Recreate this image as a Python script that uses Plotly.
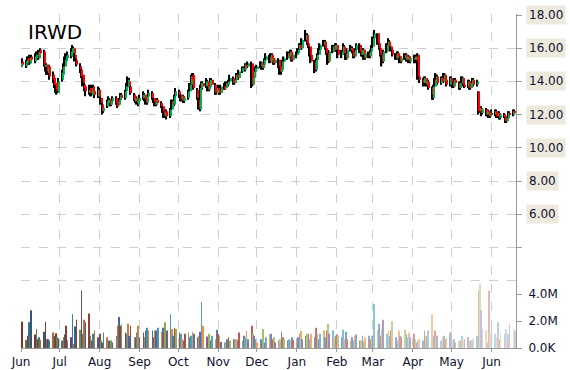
import numpy as np
import pandas as pd
import plotly.graph_objects as go

# ---- data (one line per month: Jun-2017 ... Jun-2018) ----
open_ = [
 14.9,15.2,14.9,15.1,15.4,15.1,15.5,15.2,15.4,15.7,15.4,15.9,15.8,14.9,15.0,14.5,14.9,14.4,14.2,13.9,13.6,13.3,
 14.1,14.4,14.9,15.2,15.4,15.5,15.7,16.0,15.6,15.3,14.9,14.7,14.4,13.8,13.7,13.3,13.6,13.2,13.7,13.4,13.1,
 13.5,13.0,12.6,12.2,12.5,12.7,12.9,12.6,12.8,13.0,12.8,12.6,12.9,13.2,13.0,13.4,13.7,14.0,13.7,13.2,12.8,13.0,12.6,
 12.8,13.0,13.2,12.9,12.7,13.1,13.3,13.0,12.8,12.6,12.9,12.7,12.5,12.2,11.9,12.2,11.9,12.3,12.8,12.6,13.1,
 13.4,13.2,12.9,13.1,12.8,13.0,13.4,13.8,14.3,14.4,13.5,12.9,12.3,13.6,13.9,13.7,14.0,13.5,13.7,14.1,13.8,13.3,
 13.6,13.5,13.3,13.7,13.6,13.9,13.8,14.0,14.2,13.9,14.1,14.4,14.2,14.6,14.8,14.7,15.0,14.9,15.1,13.8,14.2,14.6,
 14.8,14.9,15.1,14.8,15.0,15.3,15.5,15.2,15.6,15.4,15.1,15.3,14.9,14.6,14.7,15.2,15.4,15.7,15.5,15.8,15.3,
 15.6,15.7,15.9,16.2,16.0,16.5,16.8,16.3,16.1,15.6,15.2,14.7,15.3,15.6,15.9,16.2,16.4,16.0,15.7,15.2,15.8,16.1,15.9,
 16.2,15.9,15.6,15.8,16.1,15.7,15.4,15.9,16.0,15.8,15.5,15.9,16.2,15.8,15.6,15.9,15.4,15.7,15.5,15.8,
 16.1,16.6,16.9,16.3,16.0,15.6,15.2,15.8,16.2,16.4,16.1,15.9,15.6,15.4,15.7,15.5,15.2,15.4,15.6,15.3,15.5,15.2,
 15.4,15.3,15.5,15.6,14.3,14.1,13.9,14.2,13.8,14.0,13.6,13.0,13.7,14.1,14.3,13.9,14.2,14.0,14.4,14.1,13.8,
 14.2,14.0,13.7,14.1,13.9,13.6,13.9,14.2,13.8,13.7,14.0,13.6,13.9,14.1,13.8,13.4,12.2,12.4,12.1,12.3,12.0,12.2,11.9,
 12.1,12.0,12.2,11.9,12.1,11.8,12.0,11.9,11.6,11.8,12.1,12.0,12.2,
]
high = [
 15.3,15.4,15.3,15.5,15.5,15.6,15.6,15.7,15.8,15.8,15.9,16.0,15.9,15.2,15.1,15.0,15.0,14.6,14.4,14.0,13.8,14.2,
 14.7,15.1,15.5,15.7,15.8,16.0,16.2,16.1,15.8,15.4,15.1,14.9,14.5,14.0,13.8,13.8,13.7,13.8,13.8,13.5,13.7,
 13.6,13.1,12.7,12.6,12.9,13.1,13.0,12.9,13.1,13.1,12.9,13.0,13.3,13.3,13.5,13.9,14.3,14.2,13.8,13.3,13.2,13.1,13.0,
 13.2,13.4,13.3,13.0,13.2,13.5,13.4,13.1,12.9,13.0,13.0,12.8,12.6,12.3,12.3,12.3,12.4,12.9,12.9,13.2,13.6,
 13.5,13.3,13.2,13.2,13.1,13.5,13.9,14.4,14.5,14.5,13.6,13.0,13.8,14.0,14.0,14.2,14.1,13.8,14.2,14.2,13.9,13.7,
 13.8,13.6,13.8,13.9,14.0,14.0,14.1,14.4,14.3,14.2,14.5,14.5,14.7,14.9,14.9,15.1,15.1,15.2,15.2,14.4,14.7,14.9,
 15.0,15.2,15.2,15.1,15.4,15.7,15.6,15.7,15.7,15.5,15.4,15.4,15.0,14.9,15.3,15.5,15.8,15.8,15.9,15.9,15.7,
 15.8,16.0,16.3,16.3,16.6,17.1,16.9,16.4,16.2,15.7,15.3,15.4,15.7,16.0,16.3,16.5,16.5,16.1,15.8,15.9,16.2,16.2,16.3,
 16.3,16.0,15.9,16.3,16.2,15.8,16.0,16.2,16.1,15.9,16.0,16.3,16.3,15.9,16.0,16.0,15.8,15.8,15.9,16.2,
 16.7,17.1,16.9,16.4,16.1,15.7,15.9,16.3,16.6,16.5,16.2,16.0,15.7,15.8,15.8,15.6,15.5,15.7,15.7,15.6,15.6,15.5,
 15.6,15.6,15.6,15.7,14.4,14.2,14.3,14.3,14.1,14.1,13.7,13.8,14.2,14.5,14.4,14.3,14.3,14.5,14.5,14.2,14.3,
 14.3,14.1,14.2,14.2,14.0,14.0,14.3,14.3,13.9,14.1,14.1,14.0,14.2,14.2,14.1,13.4,12.6,12.5,12.4,12.4,12.3,12.3,12.2,
 12.3,12.3,12.3,12.2,12.2,12.1,12.1,12.0,11.9,12.2,12.2,12.3,12.3,
]
low = [
 14.8,14.9,14.8,15.0,15.0,15.0,15.1,15.1,15.3,15.3,15.3,15.5,14.9,14.6,14.4,14.4,14.1,13.9,13.6,13.3,13.2,13.3,
 14.0,14.3,14.7,15.0,15.3,15.4,15.6,15.5,15.2,14.9,14.5,14.2,13.7,13.4,13.1,13.2,13.1,13.1,13.2,13.0,13.0,
 13.0,12.6,12.0,12.1,12.4,12.6,12.5,12.5,12.7,12.6,12.4,12.5,12.8,12.9,12.9,13.3,13.6,13.7,13.2,12.8,12.7,12.6,12.5,
 12.7,12.9,12.8,12.6,12.6,13.0,12.9,12.7,12.5,12.5,12.6,12.4,12.1,11.8,11.8,11.7,11.8,12.2,12.5,12.5,13.0,
 13.0,12.8,12.8,12.7,12.7,12.9,13.3,13.7,13.9,13.5,12.9,12.3,12.2,13.4,13.5,13.6,13.4,13.4,13.6,13.7,13.2,13.2,
 13.3,13.2,13.2,13.5,13.5,13.7,13.7,13.9,13.8,13.8,14.0,14.1,14.1,14.5,14.6,14.6,14.8,14.8,13.6,13.7,14.1,14.5,
 14.6,14.8,14.7,14.7,14.9,15.2,15.1,15.1,15.3,15.0,15.0,14.8,14.4,14.4,14.6,15.1,15.3,15.4,15.4,15.2,15.2,
 15.4,15.6,15.8,15.9,15.9,16.4,16.2,16.0,15.5,15.1,14.5,14.6,15.2,15.5,15.8,16.1,15.9,15.6,15.0,15.1,15.7,15.8,15.8,
 15.8,15.4,15.4,15.7,15.6,15.3,15.3,15.8,15.7,15.4,15.4,15.8,15.7,15.5,15.5,15.3,15.3,15.4,15.4,15.7,
 16.0,16.5,16.2,15.9,15.5,14.9,15.1,15.7,16.1,16.0,15.8,15.5,15.3,15.3,15.4,15.1,15.1,15.3,15.2,15.2,15.1,15.1,
 15.1,15.2,15.1,14.1,13.9,13.7,13.8,13.7,13.7,13.5,12.9,12.9,13.6,14.0,13.8,13.8,13.9,13.9,14.0,13.7,13.7,
 13.9,13.6,13.6,13.8,13.5,13.5,13.8,13.7,13.6,13.6,13.5,13.5,13.8,13.7,13.7,12.0,12.1,11.9,12.0,11.9,11.9,11.8,11.8,
 11.9,11.9,11.8,11.8,11.7,11.7,11.8,11.5,11.5,11.7,11.9,11.9,12.0,
]
close = [
 15.1,15.0,15.2,15.3,15.2,15.4,15.3,15.5,15.6,15.5,15.8,15.7,15.0,14.9,14.6,14.8,14.3,14.1,13.8,13.5,13.4,14.0,
 14.5,14.9,15.3,15.5,15.6,15.8,16.0,15.7,15.4,15.0,14.8,14.3,13.9,13.6,13.4,13.5,13.3,13.6,13.4,13.2,13.5,
 13.1,12.7,12.2,12.4,12.8,12.9,12.6,12.8,13.0,12.7,12.5,12.9,13.2,13.0,13.4,13.7,14.1,13.8,13.3,12.9,13.0,12.7,12.9,
 13.0,13.2,12.9,12.7,13.1,13.3,13.0,12.8,12.6,12.9,12.7,12.5,12.2,12.0,12.1,11.9,12.3,12.8,12.6,13.1,13.4,
 13.2,12.9,13.1,12.8,13.0,13.4,13.8,14.3,14.1,13.6,13.0,12.4,13.6,13.9,13.7,14.0,13.5,13.7,14.1,13.8,13.3,13.6,
 13.5,13.3,13.7,13.6,13.9,13.8,14.0,14.2,13.9,14.1,14.4,14.2,14.6,14.8,14.7,15.0,14.9,15.1,13.8,14.2,14.6,14.8,
 14.9,15.1,14.8,15.0,15.3,15.5,15.2,15.6,15.4,15.1,15.3,14.9,14.6,14.7,15.2,15.4,15.7,15.5,15.8,15.3,15.6,
 15.7,15.9,16.2,16.0,16.5,16.8,16.3,16.1,15.6,15.2,14.7,15.3,15.6,15.9,16.2,16.4,16.0,15.7,15.2,15.8,16.1,15.9,16.2,
 15.9,15.6,15.8,16.1,15.7,15.4,15.9,16.0,15.8,15.5,15.9,16.2,15.8,15.6,15.9,15.4,15.7,15.5,15.8,16.0,
 16.6,16.9,16.3,16.0,15.6,15.2,15.8,16.2,16.4,16.1,15.9,15.6,15.4,15.7,15.5,15.2,15.4,15.6,15.3,15.5,15.2,15.4,
 15.3,15.5,15.2,14.3,14.1,13.9,14.2,13.8,14.0,13.6,13.2,13.7,14.1,14.3,13.9,14.2,14.0,14.4,14.1,13.8,14.2,
 14.0,13.7,14.1,13.9,13.6,13.9,14.2,13.8,13.7,14.0,13.6,13.9,14.1,13.8,14.0,12.2,12.4,12.1,12.3,12.0,12.2,11.9,12.1,
 12.0,12.2,11.9,12.1,11.8,12.0,11.9,11.6,11.8,12.1,12.0,12.2,12.1,
]
volume_m = [
 1.5,1.95,0.6,0.9,1.9,0.85,2.8,1.0,1.4,0.65,0.8,0.6,1.2,1.95,0.65,0.65,0.55,1.15,0.9,1.1,0.8,0.7,
 0.55,0.8,1.0,1.65,0.55,0.8,2.5,0.3,1.6,2.1,1.35,4.25,1.05,2.1,1.9,2.55,0.9,0.55,1.05,1.3,0.8,
 1.05,0.55,0.4,1.15,0.8,0.55,0.15,0.55,0.4,0.9,1.65,2.3,1.65,1.75,1.15,1.05,1.8,0.9,1.65,0.8,0.8,1.15,1.65,
 0.8,1.15,0.8,1.3,1.5,1.3,1.3,0.8,1.3,1.3,1.5,1.2,1.5,1.15,1.9,1.3,2.5,1.4,0.9,1.5,1.4,
 1.15,1.05,0.65,0.55,1.05,1.15,0.8,0.9,1.2,1.05,0.8,0.9,1.2,3.4,1.65,0.85,0.8,1.05,0.55,0.9,0.65,1.35,
 1.05,0.9,0.45,0.4,0.4,0.65,0.8,0.55,0.65,0.55,0.65,0.6,1.15,0.55,0.9,0.8,1.3,0.65,1.65,1.05,0.9,0.65,
 0.4,0.65,0.3,1.4,0.4,0.8,1.0,1.05,0.65,0.8,0.4,0.55,0.65,1.2,0.8,0.65,0.55,0.65,0.55,0.8,0.6,
 0.65,0.8,1.05,1.25,0.65,0.9,1.05,1.05,0.65,1.05,0.8,1.5,1.05,0.65,1.05,1.3,0.8,1.3,1.8,1.05,1.3,0.8,0.9,
 1.0,0.9,0.8,1.35,0.65,1.2,0.65,0.55,0.8,0.55,0.9,1.0,0.55,0.55,0.9,0.5,0.8,0.9,0.65,0.9,
 0.9,3.25,1.3,1.8,0.9,1.4,2.1,1.05,1.3,0.85,1.3,2.0,0.8,0.55,1.3,0.9,0.8,1.35,1.05,0.8,1.15,0.8,
 1.05,0.65,0.4,0.55,0.65,0.55,1.3,0.9,0.8,1.3,2.5,0.9,1.3,0.8,0.9,0.55,0.8,0.9,0.65,0.8,1.15,
 1.3,0.55,0.65,0.4,0.55,0.55,0.9,0.55,0.65,0.8,0.55,0.55,0.6,0.7,0.9,4.25,4.75,2.8,1.4,1.3,0.4,4.25,1.1,
 1.4,1.05,0.8,1.9,0.65,1.15,1.05,1.4,0.65,1.05,1.8,1.5,1.3,
]
ticker = "IRWD"
price_ticks = [4, 6, 8, 10, 12, 14, 16, 18]
price_labels = ["", "6.00", "8.00", "10.00", "12.00", "14.00", "16.00", "18.00"]
vol_ticks = [0, 2e6, 4e6]
vol_labels = ["0.0K", "2.0M", "4.0M"]

n = len(close)
dates = pd.bdate_range("2017-06-01", periods=n)
o = np.array(open_[:n]); h = np.array(high[:n]); l = np.array(low[:n]); c = np.array(close)
volume = np.array(volume_m[:n]) * 1e6

DAY = 86400000.0

# volume colours: cycling palette, fading from dark (left) to pale (right)
palette = ["#4F81BD", "#C0504D", "#9BBB59", "#8064A2", "#4BACC6", "#F79646"]
def hex2rgb(hx):
    return np.array([int(hx[i:i+2], 16) for i in (1, 3, 5)], float)
vcolors = []
for i in range(len(volume)):
    base = hex2rgb(palette[i % len(palette)])
    t = i / max(1, len(volume) - 1)
    if t < 0.4:
        col = base * (0.65 + 0.35 * (t / 0.4))
    else:
        col = base + (255 - base) * (0.65 * (t - 0.4) / 0.6)
    col = np.clip(col, 0, 255).astype(int)
    vcolors.append(f"rgb({col[0]},{col[1]},{col[2]})")

body_colors = ["#00b050" if cc >= oo else "#ff0000" for oo, cc in zip(o, c)]

fig = go.Figure()
fig.add_trace(go.Bar(
    x=dates[:len(volume)], y=volume, yaxis="y2",
    width=0.6 * DAY, offset=-0.3 * DAY,
    marker=dict(color=vcolors, line=dict(width=0)),
    showlegend=False, hoverinfo="skip"))
# high-low range (black)
fig.add_trace(go.Bar(
    x=dates, base=l, y=h - l, yaxis="y",
    width=1.1 * DAY, offset=-0.9 * DAY,
    marker=dict(color="#000000", line=dict(width=0)),
    showlegend=False, hoverinfo="skip"))
# open-close body (green up / red down)
fig.add_trace(go.Bar(
    x=dates, base=np.minimum(o, c), y=np.maximum(np.abs(c - o), 0.03), yaxis="y",
    width=0.9 * DAY, offset=0.2 * DAY,
    marker=dict(color=body_colors, line=dict(width=0)),
    showlegend=False, hoverinfo="skip"))

grid = "#cfcfcf"
fig.update_layout(
    width=570, height=370,
    margin=dict(l=21, r=54, t=14, b=22),
    paper_bgcolor="white", plot_bgcolor="white",
    font=dict(family="DejaVu Sans", size=12, color="#101030"),
    barmode="overlay",
    xaxis=dict(
        type="date", range=["2017-06-01", "2018-06-20"],
        dtick="M1", tick0="2017-06-01", tickformat="%b",
        showgrid=True, gridcolor=grid, griddash="dash", gridwidth=1,
        showline=True, linecolor="#999999", linewidth=1,
        ticks="outside", ticklen=3, tickcolor="#999999",
        tickfont=dict(size=12, color="#101030"),
        zeroline=False, automargin=False,
    ),
    yaxis=dict(
        side="right", range=[-2.06, 18.06],
        tickvals=price_ticks, ticktext=[""] * len(price_ticks),
        showgrid=True, gridcolor=grid, griddash="dash", gridwidth=1,
        showline=True, linecolor="#999999", linewidth=1,
        ticks="outside", ticklen=5, tickcolor="#999999",
        zeroline=False, automargin=False,
    ),
    yaxis2=dict(
        overlaying="y", side="right", range=[0, 24.74e6],
        tickvals=vol_ticks, ticktext=vol_labels,
        showgrid=False, zeroline=False, showline=False,
        ticks="outside", ticklen=5, tickcolor="#999999",
        ticklabelstandoff=4, automargin=False,
        tickfont=dict(size=12, color="#101030"),
    ),
)

# dashed top line of the volume panel
fig.add_shape(type="line", xref="paper", x0=0, x1=1, yref="y2", y0=5e6, y1=5e6,
              line=dict(color=grid, width=1, dash="dash"), layer="below")

# price labels with beige boxes
for v, t in zip(price_ticks, price_labels):
    if t:
        fig.add_annotation(xref="paper", x=1, xshift=10, xanchor="left",
                           yref="y", y=v, text=t, showarrow=False,
                           bgcolor="#ede9dc", borderpad=2,
                           font=dict(family="DejaVu Sans", size=12, color="#101030"))

fig.add_annotation(xref="paper", yref="paper", x=0, y=1, xshift=5, yshift=-4,
                   xanchor="left", yanchor="top", text=ticker, showarrow=False,
                   font=dict(family="DejaVu Sans", size=20, color="#000000"))

fig.write_html("out.html")
